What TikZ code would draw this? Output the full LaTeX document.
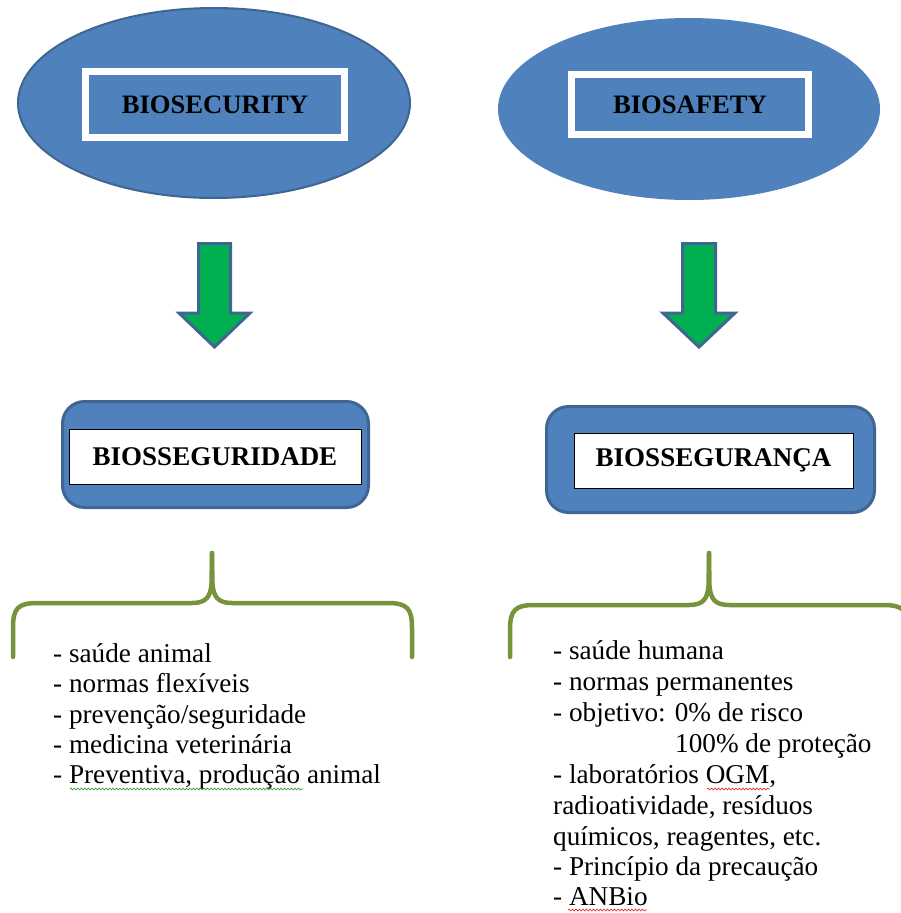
\documentclass[tikz,border=0pt]{standalone}
\usepackage{fontspec}
\setmainfont{Liberation Serif}
\usetikzlibrary{shapes.geometric,decorations.pathmorphing}
\definecolor{ofblue}{HTML}{4F81BD}
\definecolor{ofline}{HTML}{3F6592}
\definecolor{ofgreen}{HTML}{00B050}
\definecolor{bracecol}{HTML}{77933C}
\definecolor{spellgreen}{HTML}{3C9A3C}
\definecolor{spellred}{HTML}{E03030}
\begin{document}
\begin{tikzpicture}[x=1pt,y=-1pt,
  oval/.style={ellipse,fill=ofblue,inner sep=0pt},
  titlebox/.style={draw=white,line width=7pt,inner sep=0pt,
    font=\fontsize{26.6}{30}\selectfont\bfseries},
  roundbox/.style={draw=ofline,fill=ofblue,line width=3pt,rounded corners=22pt,inner sep=0pt},
  labelbox/.style={draw=black,fill=white,line width=0.9pt,inner sep=0pt,
    font=\fontsize{27}{30}\selectfont\bfseries},
  blockarrow/.style={draw=ofline,fill=ofgreen,line width=3pt,line join=miter},
  bracestyle/.style={draw=bracecol,line width=4.5pt,line cap=round,line join=round},
  item/.style={anchor=base west,inner sep=0pt,font=\fontsize{27.2}{30}\selectfont},
  spellwave/.style={decorate,decoration={snake,amplitude=0.9pt,segment length=3.5pt},line width=0.7pt}
]
\useasboundingbox (0,0) rectangle (901,913);

% top ellipses
\node[oval,draw=ofline,line width=2pt,minimum width=392pt,minimum height=190pt] (e1) at (214,103) {};
\node[oval,minimum width=382pt,minimum height=182pt] (e2) at (689,109) {};
\node[titlebox,minimum width=259pt,minimum height=66pt] (t1) at (215,104.5) {BIOSECURITY};
\node[titlebox,minimum width=237pt,minimum height=60pt] (t2) at (690,104.5) {BIOSAFETY};

% block arrows
\draw[blockarrow] (198.5,243.5) -- (230.5,243.5) -- (230.5,313) -- (250,313) -- (214.5,347)
  -- (179,313) -- (198.5,313) -- cycle;
\draw[blockarrow] (682.5,243.5) -- (715.5,243.5) -- (715.5,313) -- (735,313) -- (699,347)
  -- (663,313) -- (682.5,313) -- cycle;

% rounded boxes
\node[roundbox,minimum width=306pt,minimum height=106pt] (b1) at (215.5,454.5) {};
\node[labelbox,minimum width=292pt,minimum height=55pt] (l1) at (215,456.5) {BIOSSEGURIDADE\hspace{8pt}};
\node[roundbox,minimum width=328pt,minimum height=106pt] (b2) at (710.5,459.5) {};
\node[labelbox,minimum width=279pt,minimum height=55pt] (l2) at (713.5,460.5) {BIOSSEGURANÇA};

% braces
\coordinate (c1) at (212,553);
\coordinate (c2) at (709,553);
\draw[bracestyle] (13,657) -- (13,628) .. controls (13,608) and (18,603) .. (38,603) -- (192,603)
  .. controls (206,603) and (211,597) .. (211.6,582) -- (c1);
\draw[bracestyle] (412,657) -- (412,628) .. controls (412,608) and (407,603) .. (387,603) -- (232,603)
  .. controls (218,603) and (213,597) .. (212.4,582) -- (c1);
\draw[bracestyle] (510,657) -- (510,630) .. controls (510,610) and (515,605) .. (535,605) -- (689,605)
  .. controls (703,605) and (708,599) .. (708.6,584) -- (c2);
\draw[bracestyle] (908,657) -- (908,630) .. controls (908,610) and (903,605) .. (883,605) -- (729,605)
  .. controls (715,605) and (710,599) .. (709.4,584) -- (c2);

% left list
\node[item] (a1) at (53,662) {- saúde animal};
\node[item] (a2) at (53,692.5) {- normas flexíveis};
\node[item] (a3) at (53,723) {- prevenção/seguridade};
\node[item] (a4) at (53,753) {- medicina veterinária};
\node[item] (a5) at (53,783) {- Preventiva, produção animal};

% right list
\node[item] (r1) at (553,659) {- saúde humana};
\node[item] (r2) at (553,690) {- normas permanentes};
\node[item] (r3) at (553,721.5) {- objetivo: 0\% de risco};
\node[item] (r4) at (675,752.5) {100\% de proteção};
\node[item] (r5) at (553,783) {- laboratórios OGM,};
\node[item] (r6) at (553,814) {radioatividade, resíduos};
\node[item] (r7) at (553,845) {químicos, reagentes, etc.};
\node[item] (r8) at (553,875.5) {- Princípio da precaução};
\node[item] (r9) at (553,905.5) {- ANBio};

% spell-check underlines
\draw[spellwave,spellgreen] (70,789) -- (303,789);
\draw[spellwave,spellred] (707,789) -- (770,789);
\draw[spellwave,spellred] (568,910) -- (647,910);
\end{tikzpicture}
\end{document}
